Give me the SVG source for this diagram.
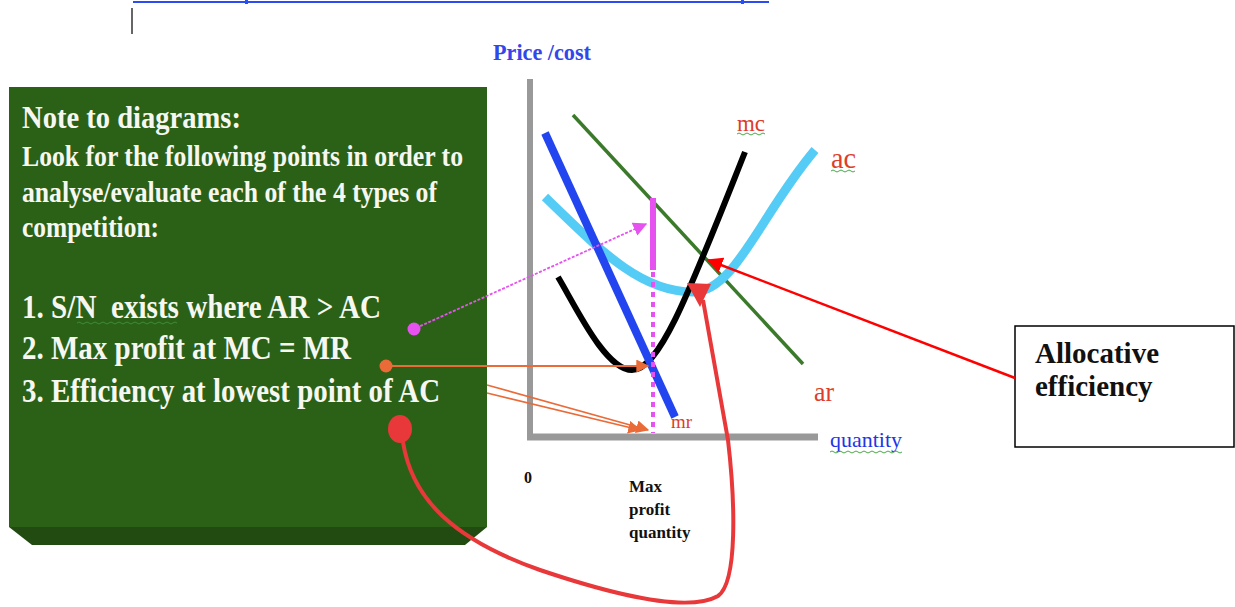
<svg xmlns="http://www.w3.org/2000/svg" width="1235" height="607" viewBox="0 0 1235 607">
<style>
.box{fill:#2b6117}
.bevel{fill:#214b10}
.nt{font-family:"Liberation Serif","Times New Roman",serif;font-weight:bold;fill:#f7f7f2}
.lbl{font-family:"Liberation Serif","Times New Roman",serif;fill:#dd3d2a}
.blk{font-family:"Liberation Serif","Times New Roman",serif;font-weight:bold;fill:#111}
.sq{fill:none;stroke:#4aa84a;stroke-width:1}
</style>
<defs>
<marker id="mMag" viewBox="0 0 10 10" refX="9" refY="5" markerWidth="14" markerHeight="14" markerUnits="userSpaceOnUse" orient="auto"><path d="M0,0 L10,5 L0,10 z" fill="#e552ef"/></marker>
<marker id="mOr" viewBox="0 0 10 10" refX="9" refY="5" markerWidth="13" markerHeight="13" markerUnits="userSpaceOnUse" orient="auto"><path d="M0,0 L10,5 L0,10 z" fill="#ea6a38"/></marker>
<marker id="mRed" viewBox="0 0 10 10" refX="9" refY="5" markerWidth="16" markerHeight="16" markerUnits="userSpaceOnUse" orient="auto"><path d="M0,0 L10,5 L0,10 z" fill="#f00"/></marker>
</defs>

<g id="header">
<line x1="133" y1="2" x2="769" y2="2" stroke="#2a4cf5" stroke-width="2"/>
<rect x="245" y="0" width="3" height="4" fill="#2a4cf5"/>
<rect x="741" y="0" width="3" height="4" fill="#2a4cf5"/>
<line x1="132" y1="8" x2="132" y2="34" stroke="#333" stroke-width="1.5"/>
</g>

<g id="note-box">
<rect class="box" x="9" y="87" width="478" height="440"/>
<path class="bevel" d="M9,527 L487,527 L465,545 L32,545 Z"/>
<text class="nt" x="22" y="128" font-size="32" textLength="219" lengthAdjust="spacingAndGlyphs">Note to diagrams:</text>
<text class="nt" x="22" y="166" font-size="29" textLength="441" lengthAdjust="spacingAndGlyphs">Look for the following points in order to</text>
<text class="nt" x="22" y="202" font-size="29" textLength="415" lengthAdjust="spacingAndGlyphs">analyse/evaluate each of the 4 types of</text>
<text class="nt" x="22" y="237" font-size="29" textLength="137" lengthAdjust="spacingAndGlyphs">competition:</text>
<text class="nt" x="22" y="318" font-size="33" textLength="359" lengthAdjust="spacingAndGlyphs">1. S/N&#160; exists where AR &gt; AC</text>
<text class="nt" x="22" y="359" font-size="33" textLength="329" lengthAdjust="spacingAndGlyphs">2. Max profit at MC = MR</text>
<text class="nt" x="22" y="402" font-size="33" textLength="418" lengthAdjust="spacingAndGlyphs">3. Efficiency at lowest point of AC</text>
<path class="sq" d="M77,323 q2,-2 4,0 t4,0 t4,0 t4,0 t4,0 t4,0 t4,0 t4,0 t4,0 t4,0 t4,0 t4,0 t4,0 t4,0 t4,0 t4,0 t4,0 t4,0 t4,0 t4,0 t4,0 t4,0 t4,0 t4,0 t4,0" opacity="0.6"/>
</g>

<g id="axes">
<line x1="530" y1="79" x2="530" y2="440" stroke="#999" stroke-width="6"/>
<line x1="527" y1="437" x2="818" y2="437" stroke="#999" stroke-width="7"/>
<text x="493" y="60" font-family="Liberation Serif, serif" font-weight="bold" font-size="24" fill="#3247ea" textLength="98" lengthAdjust="spacingAndGlyphs">Price /cost</text>
<text x="830" y="447" font-family="Liberation Serif, serif" font-size="21" fill="#2235e6" textLength="72" lengthAdjust="spacingAndGlyphs">quantity</text>
<path class="sq" d="M830,452 q2,-2 4,0 t4,0 t4,0 t4,0 t4,0 t4,0 t4,0 t4,0 t4,0 t4,0 t4,0 t4,0 t4,0 t4,0 t4,0 t4,0 t4,0 t4,0"/>
<text class="blk" x="524" y="483" font-size="16">0</text>
<text class="blk" x="629" y="492" font-size="17">Max</text>
<text class="blk" x="629" y="515" font-size="17">profit</text>
<text class="blk" x="629" y="538" font-size="17">quantity</text>
</g>

<g id="curves">
<line id="ar" x1="573" y1="115" x2="803" y2="364" stroke="#3b7a2b" stroke-width="3.5"/>
<path id="ac" d="M545,197 C600,250 640,292 693,292 C735,292 760,215 815,150" fill="none" stroke="#55ccf6" stroke-width="9"/>
<path id="mc" d="M558,277 C575,305 605,370 632,370 C660,370 690,290 745,152" fill="none" stroke="#000" stroke-width="6"/>
<line id="mr" x1="545" y1="133" x2="675" y2="417" stroke="#2245ef" stroke-width="8"/>
<line id="sn-bar" x1="653" y1="198" x2="653" y2="270" stroke="#e552ef" stroke-width="6"/>
<line id="mpq" x1="653" y1="272" x2="653" y2="433" stroke="#e552ef" stroke-width="4" stroke-dasharray="5 5"/>
<text class="lbl" x="737" y="131" font-size="24" textLength="28" lengthAdjust="spacingAndGlyphs">mc</text>
<path class="sq" d="M737,134 q2,-2 4,0 t4,0 t4,0 t4,0 t4,0 t4,0 t4,0"/>
<text class="lbl" x="831" y="168" font-size="30" textLength="25" lengthAdjust="spacingAndGlyphs">ac</text>
<path class="sq" d="M831,171 q2,-2 4,0 t4,0 t4,0 t4,0 t4,0 t4,0"/>
<text class="lbl" x="814" y="401" font-size="28" textLength="20" lengthAdjust="spacingAndGlyphs">ar</text>
<text class="lbl" x="671" y="428" font-size="18" textLength="21" lengthAdjust="spacingAndGlyphs">mr</text>
</g>

<g id="allocative-box">
<rect x="1015" y="326" width="219" height="121" fill="#fff" stroke="#000" stroke-width="1.5"/>
<text class="blk" x="1035" y="363" font-size="29">Allocative</text>
<text class="blk" x="1035" y="396" font-size="29">efficiency</text>
</g>

<g id="connectors">
<circle cx="414" cy="329" r="6.5" fill="#e552ef"/>
<line x1="416" y1="328" x2="646" y2="224" stroke="#e552ef" stroke-width="1.8" stroke-dasharray="3 1.5" marker-end="url(#mMag)"/>
<circle cx="386" cy="366" r="6.5" fill="#ea6a38"/>
<line x1="388" y1="366" x2="648" y2="366" stroke="#ea6a38" stroke-width="1.8" marker-end="url(#mOr)"/>
<line x1="487" y1="385" x2="648" y2="430" stroke="#ea6a38" stroke-width="1.6" marker-end="url(#mOr)"/>
<line x1="487" y1="393" x2="640" y2="430" stroke="#ea6a38" stroke-width="1.6" marker-end="url(#mOr)"/>
<line x1="1015" y1="378" x2="708" y2="260" stroke="#f00" stroke-width="2.5" marker-end="url(#mRed)"/>
<ellipse cx="400" cy="429" rx="12" ry="14" fill="#e8383a"/>
<path d="M403,442 C412,500 455,540 540,570 C620,597 690,612 718,596 C738,582 735,500 728,440 L703,300" fill="none" stroke="#e8383a" stroke-width="4"/>
<path d="M687,283 L711,284 L700,307 Z" fill="#e8383a"/>
</g>
</svg>
